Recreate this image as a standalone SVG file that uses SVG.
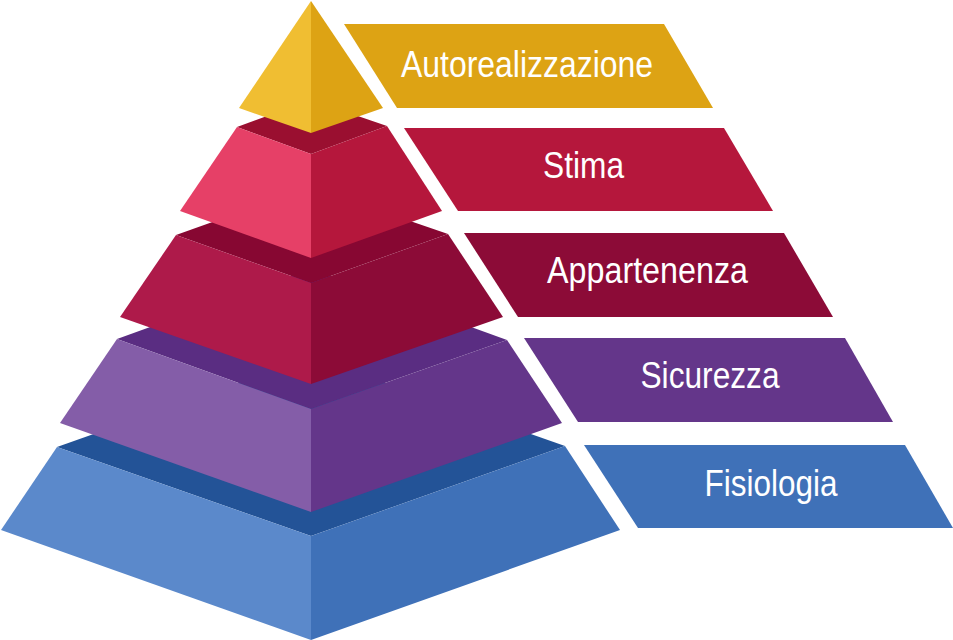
<svg xmlns="http://www.w3.org/2000/svg" width="953" height="640" viewBox="0 0 953 640">
<style>
.lbl{font-family:"Liberation Sans",Arial,sans-serif;font-size:37px;fill:#fff;text-anchor:middle}
</style>
<rect width="953" height="640" fill="#fff"/>
<g id="tier-fisiologia">
<polygon points="57,447 311,357 565,446 311,536" fill="#235397"/>
<polygon points="57,447 311,536 311,640 1,530" fill="#5B89CB"/>
<polygon points="311,536 565,446 620,530 311,640" fill="#3F71B8"/>
</g>
<g id="tier-sicurezza">
<polygon points="117,339 311,269 507,340 311,409" fill="#5A2D82"/>
<polygon points="117,339 311,409 311,512 60,423" fill="#845DA8"/>
<polygon points="311,409 507,340 562,423 311,512" fill="#64368A"/>
</g>
<g id="tier-appartenenza">
<polygon points="176,235 311,187 448,234 311,283" fill="#870732"/>
<polygon points="176,235 311,283 311,384 120,317" fill="#AE1A4A"/>
<polygon points="311,283 448,234 503,317 311,384" fill="#8C0B37"/>
</g>
<g id="tier-stima">
<polygon points="237,127 311,100 387,126 311,154" fill="#9A0F30"/>
<polygon points="237,127 311,154 311,258 180,211" fill="#E64067"/>
<polygon points="311,154 387,126 442,211 311,258" fill="#B5173C"/>
</g>
<g id="tier-autorealizzazione">
<polygon points="311,1 311,133 239,108" fill="#F0BE32"/>
<polygon points="311,1 383,108 311,133" fill="#DDA314"/>
</g>
<g id="label-autorealizzazione">
<polygon points="344,24 664,24 713,108 397,108" fill="#DDA314"/>
<text class="lbl" x="527" y="77" textLength="252" lengthAdjust="spacingAndGlyphs">Autorealizzazione</text>
</g>
<g id="label-stima">
<polygon points="404,128 724,128 773,211 458,211" fill="#B5173C"/>
<text class="lbl" x="583.5" y="178" textLength="81" lengthAdjust="spacingAndGlyphs">Stima</text>
</g>
<g id="label-appartenenza">
<polygon points="464,233 784,233 833,317 518,317" fill="#8C0B37"/>
<text class="lbl" x="647.5" y="283" textLength="201" lengthAdjust="spacingAndGlyphs">Appartenenza</text>
</g>
<g id="label-sicurezza">
<polygon points="524,338 845,338 893,422 578,422" fill="#64368A"/>
<text class="lbl" x="710" y="388" textLength="139" lengthAdjust="spacingAndGlyphs">Sicurezza</text>
</g>
<g id="label-fisiologia">
<polygon points="584,445 905,445 953,528 638,528" fill="#3F71B8"/>
<text class="lbl" x="771" y="496" textLength="133" lengthAdjust="spacingAndGlyphs">Fisiologia</text>
</g>
<g id="connectors"></g>
</svg>
